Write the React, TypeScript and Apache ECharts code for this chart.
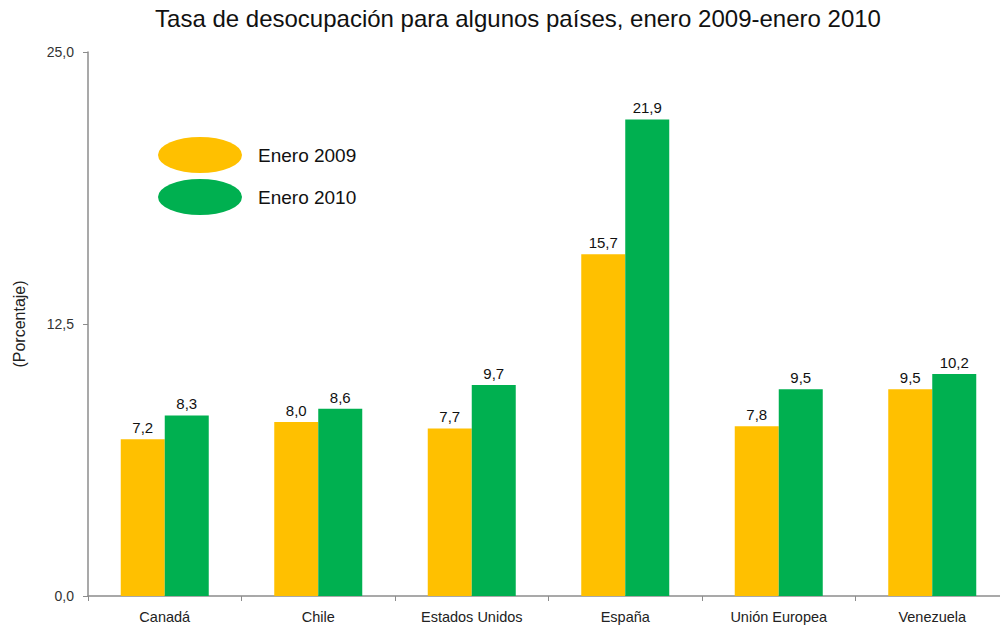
import React, { useEffect, useRef } from "react";
import * as echarts from "echarts";

const titleText = "Tasa de desocupación para algunos países, enero 2009-enero 2010";
const categories = ["Canadá", "Chile", "Estados Unidos", "España", "Unión Europea", "Venezuela"];
const seriesNames = ["Enero 2009", "Enero 2010"];
const enero2009 = [7.2, 8.0, 7.7, 15.7, 7.8, 9.5];
const enero2010 = [8.3, 8.6, 9.7, 21.9, 9.5, 10.2];
const yTicks = [0, 12.5, 25];
const yAxisName = "(Porcentaje)";

const fmt = (v: number) => v.toFixed(1).replace(".", ",");
const FONT = "Liberation Sans, Arial, sans-serif";
const ellipseIcon = "path://M0,18 A42,18 0 1,0 84,18 A42,18 0 1,0 0,18 Z";

export default function App() {
  const ref = useRef<HTMLDivElement>(null);
  useEffect(() => {
    document.body.style.margin = "0";
    if (!ref.current) return;
    const chart = echarts.init(ref.current, null, { renderer: "svg" });
    const labelStyle = {
      show: true,
      position: "top" as const,
      distance: 4,
      color: "#111",
      fontSize: 15,
      fontFamily: FONT,
      formatter: (p: any) => fmt(p.value),
    };
    chart.setOption({
      animation: false,
      backgroundColor: "#fff",
      textStyle: { fontFamily: FONT },
      title: {
        text: titleText,
        left: 513,
        textAlign: "center",
        top: 1,
        textStyle: { fontSize: 24, fontWeight: "normal", color: "#111", fontFamily: FONT },
      },
      legend: {
        orient: "vertical",
        left: 153,
        top: 132,
        itemWidth: 84,
        itemHeight: 36,
        itemGap: 6,
        icon: ellipseIcon,
        textStyle: { fontSize: 19, color: "#111", fontFamily: FONT, padding: [0, 0, 0, 11] },
        data: seriesNames,
      },
      grid: { left: 88, top: 52, width: 921, height: 544, containLabel: false },
      xAxis: {
        type: "category",
        data: categories,
        axisLine: { lineStyle: { color: "#8c8c8c", width: 1.5 } },
        axisTick: { show: true, length: 5, lineStyle: { color: "#8c8c8c" } },
        axisLabel: { color: "#222", fontSize: 14.5, margin: 13, fontFamily: FONT },
      },
      yAxis: {
        type: "value",
        min: 0,
        max: 25,
        interval: 12.5,
        name: yAxisName,
        nameLocation: "middle",
        nameRotate: 90,
        nameGap: 61,
        nameTextStyle: { fontSize: 16, color: "#222", fontFamily: FONT },
        axisLine: { show: true, lineStyle: { color: "#8c8c8c", width: 1.5 } },
        axisTick: { show: true, length: 5, lineStyle: { color: "#8c8c8c" } },
        splitLine: { show: false },
        axisLabel: {
          color: "#333",
          fontSize: 14,
          margin: 14,
          fontFamily: FONT,
          formatter: (v: number) => (yTicks.includes(v) ? fmt(v) : ""),
        },
      },
      series: [
        {
          name: seriesNames[0],
          type: "bar",
          data: enero2009,
          barWidth: 44,
          barGap: "0%",
          itemStyle: { color: "#FFC000" },
          label: labelStyle,
        },
        {
          name: seriesNames[1],
          type: "bar",
          data: enero2010,
          barWidth: 44,
          barGap: "0%",
          itemStyle: { color: "#00B050" },
          label: labelStyle,
        },
      ],
    });
    return () => chart.dispose();
  }, []);
  return (
    <div style={{ width: 1000, height: 627, overflow: "hidden", position: "relative" }}>
      <div ref={ref} style={{ width: 1010, height: 627 }} />
    </div>
  );
}
